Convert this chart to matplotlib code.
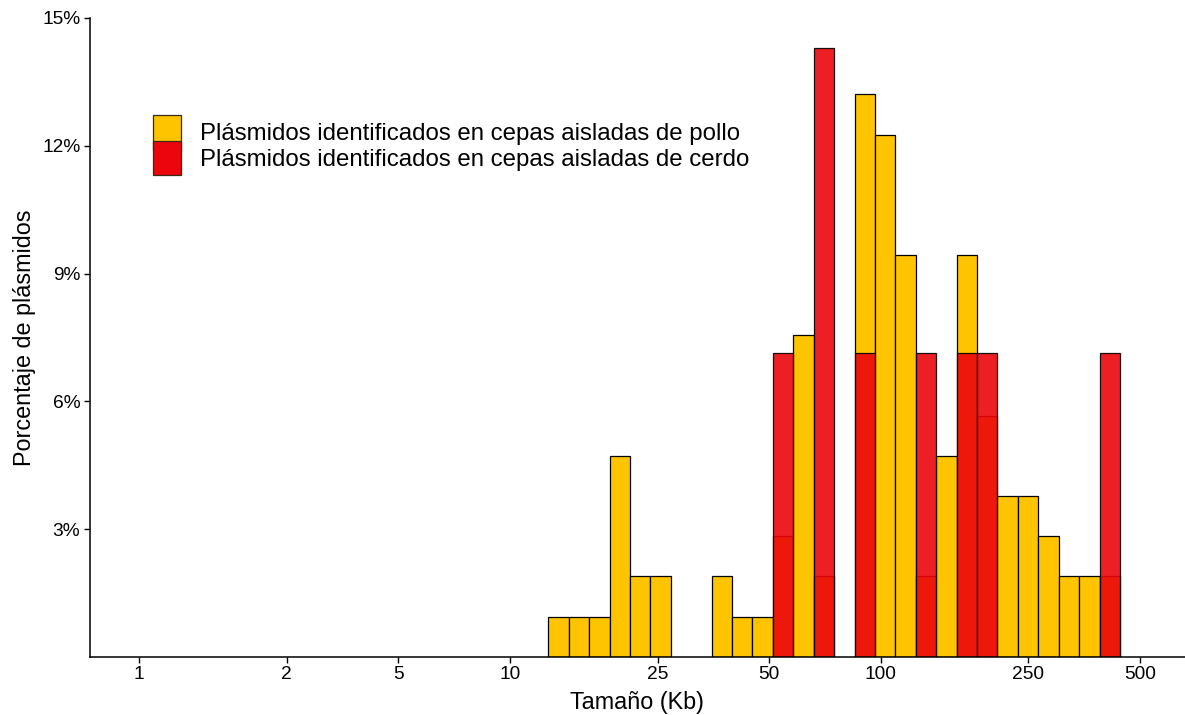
import numpy as np
import matplotlib
matplotlib.use("Agg")
import matplotlib.pyplot as plt
from matplotlib.patches import Patch, Rectangle
from matplotlib.legend_handler import HandlerPatch
from matplotlib.ticker import FixedLocator, FixedFormatter

plt.rcParams["font.family"] = ["Liberation Sans", "DejaVu Sans"]

# ── Datos (porcentaje de plásmidos por intervalo de tamaño) ──────────────────
# Intervalos en escala log10 del tamaño (Kb)
BIN_START_LOG = 1.1033
BIN_WIDTH_LOG = 0.05508
N_BINS = 28

pollo_pct = [0.94, 0.94, 0.94, 4.72, 1.89, 1.89, 0.00, 0.00, 1.89, 0.94,
             0.94, 2.83, 7.55, 1.89, 0.00, 13.21, 12.26, 9.43, 1.89, 4.72,
             9.43, 5.66, 3.77, 3.77, 2.83, 1.89, 1.89, 1.89]
cerdo_pct = [0.00, 0.00, 0.00, 0.00, 0.00, 0.00, 0.00, 0.00, 0.00, 0.00,
             0.00, 7.14, 0.00, 14.29, 0.00, 7.14, 0.00, 0.00, 7.14, 0.00,
             7.14, 7.14, 0.00, 0.00, 0.00, 0.00, 0.00, 7.14]

x_ticks = [1, 2.5, 5, 10, 25, 50, 100, 250, 500]
x_tick_labels = ["1", "2", "5", "10", "25", "50", "100", "250", "500"]
y_ticks = [3, 6, 9, 12, 15]

labels = ["Plásmidos identificados en cepas aisladas de pollo",
          "Plásmidos identificados en cepas aisladas de cerdo"]
COL_POLLO = "#FFC400"
COL_CERDO = "#EC050C"


def tall_key(legend, orig_handle, xdescent, ydescent, width, height, fontsize):
    # claves de la leyenda algo más altas que la fila (como en ggplot)
    extra = 0.36 * height
    return Rectangle((-xdescent, -ydescent - extra / 2), width, height + extra)


# ── Figura ───────────────────────────────────────────────────────────────────
fig = plt.figure(figsize=(11.85, 7.15), dpi=100)
ax = fig.add_axes([90 / 1185, 58 / 715, 1095 / 1185, 639 / 715])

edges = 10 ** (BIN_START_LOG + BIN_WIDTH_LOG * np.arange(N_BINS + 1))
left = edges[:-1]
widths = np.diff(edges)

for vals, col, alpha in [(pollo_pct, COL_POLLO, 1.0), (cerdo_pct, COL_CERDO, 0.9)]:
    vals = np.array(vals)
    m = vals > 0
    ax.bar(left[m], vals[m], width=widths[m], align="edge", color=col,
           edgecolor="black", linewidth=0.9, alpha=alpha)

ax.set_xscale("log")
ax.set_xlim(10 ** -0.1330, 10 ** 2.8209)
ax.set_ylim(0, 15)
ax.xaxis.set_major_locator(FixedLocator(x_ticks))
ax.xaxis.set_major_formatter(FixedFormatter(x_tick_labels))
ax.xaxis.set_minor_locator(FixedLocator([]))
ax.set_yticks(y_ticks)
ax.set_yticklabels([f"{v}%" for v in y_ticks])

for s in ["top", "right"]:
    ax.spines[s].set_visible(False)
for s in ["left", "bottom"]:
    ax.spines[s].set_linewidth(1.1)
ax.tick_params(axis="both", length=4, width=1.0, labelsize=13.8, colors="black")
ax.tick_params(axis="x", pad=2.5)
ax.tick_params(axis="y", pad=3)

ax.set_xlabel("Tamaño (Kb)", fontsize=16.8, labelpad=6)
ax.set_ylabel("Porcentaje de plásmidos", fontsize=16.8, labelpad=4)

handles = [Patch(facecolor=COL_POLLO, edgecolor="#3a2a1a", linewidth=0.9),
           Patch(facecolor=COL_CERDO, edgecolor="#3a2a1a", linewidth=0.9)]
ax.legend(handles, labels, loc="upper left", bbox_to_anchor=(0.0575, 0.841),
          frameon=False, fontsize=17.3, handlelength=1.15, handleheight=1.25,
          handletextpad=0.82, labelspacing=0, borderpad=0, borderaxespad=0,
          handler_map={Patch: HandlerPatch(patch_func=tall_key)})

fig.savefig("out.png", dpi=100)
